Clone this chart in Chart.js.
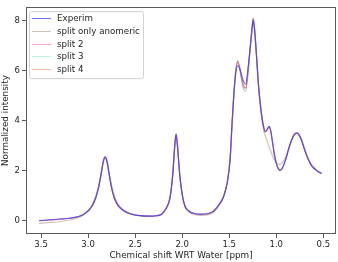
<!DOCTYPE html>
<html>
<head>
<meta charset="utf-8">
<script src="https://cdn.jsdelivr.net/npm/chart.js@4.4.0/dist/chart.umd.min.js"></script>
<style>
  html, body { margin: 0; padding: 0; background: #fff; }
  canvas { display: block; }
</style>
</head>
<body>
<canvas id="nmrChart" width="338" height="262"></canvas>
<script>
// chemical shift (ppm)
const shiftPpm = [
  3.52, 3.40, 3.30, 3.20, 3.10, 3.05, 3.00, 2.96, 2.92, 2.89,
  2.86, 2.84, 2.82, 2.80, 2.78, 2.75, 2.72, 2.68, 2.62, 2.55,
  2.45, 2.35, 2.28, 2.22, 2.17, 2.13, 2.10, 2.08, 2.065, 2.05,
  2.03, 2.00, 1.97, 1.93, 1.88, 1.80, 1.72, 1.66, 1.60, 1.56,
  1.52, 1.49, 1.47, 1.45, 1.43, 1.41, 1.39, 1.37, 1.35, 1.325,
  1.30, 1.28, 1.26, 1.245, 1.23, 1.21, 1.19, 1.17, 1.15, 1.13,
  1.115, 1.09, 1.077, 1.06, 1.04, 1.02, 1.00, 0.98, 0.96, 0.94,
  0.90, 0.87, 0.84, 0.81, 0.78, 0.76, 0.73, 0.70, 0.66, 0.62,
  0.58, 0.55, 0.52
];

const experim = [
  0.02, 0.05, 0.08, 0.11, 0.18, 0.26, 0.40, 0.58, 0.90, 1.30,
  1.90, 2.35, 2.56, 2.40, 1.95, 1.30, 0.90, 0.60, 0.40, 0.28,
  0.21, 0.19, 0.21, 0.27, 0.50, 0.90, 1.85, 2.95, 3.47, 3.00,
  2.00, 1.05, 0.58, 0.40, 0.31, 0.27, 0.30, 0.42, 0.70, 0.98,
  1.55, 2.50, 3.90, 5.10, 5.90, 6.20, 6.10, 5.85, 5.60, 5.45,
  6.10, 6.80, 7.55, 8.02, 7.60, 6.60, 5.50, 4.70, 4.10, 3.70,
  3.57, 3.70, 3.78, 3.62, 3.15, 2.65, 2.30, 2.10, 2.02, 2.08,
  2.45, 2.85, 3.20, 3.45, 3.51, 3.45, 3.20, 2.85, 2.45, 2.18,
  2.04, 1.96, 1.90
];

const splitAnomeric = [
  -0.10, -0.06, -0.02, 0.04, 0.14, 0.24, 0.40, 0.62, 0.98, 1.38,
  1.92, 2.30, 2.50, 2.38, 2.00, 1.42, 1.00, 0.68, 0.44, 0.30,
  0.21, 0.18, 0.20, 0.26, 0.52, 0.95, 1.88, 2.92, 3.45, 3.02,
  2.05, 1.10, 0.60, 0.37, 0.27, 0.22, 0.25, 0.37, 0.66, 0.96,
  1.55, 2.45, 3.80, 5.05, 6.00, 6.40, 6.10, 5.65, 5.28, 5.17,
  5.85, 6.75, 7.60, 8.10, 7.65, 6.55, 5.40, 4.55, 3.95, 3.55,
  3.38, 3.12, 2.98, 2.80, 2.60, 2.45, 2.34, 2.27, 2.26, 2.31,
  2.55, 2.88, 3.20, 3.43, 3.50, 3.46, 3.25, 2.92, 2.52, 2.23,
  2.07, 1.98, 1.92
];

const split2 = [
  0.00, 0.04, 0.07, 0.11, 0.18, 0.26, 0.41, 0.60, 0.93, 1.33,
  1.92, 2.36, 2.55, 2.40, 1.96, 1.33, 0.92, 0.62, 0.41, 0.29,
  0.21, 0.19, 0.21, 0.27, 0.51, 0.92, 1.87, 2.96, 3.47, 3.01,
  2.02, 1.06, 0.59, 0.39, 0.30, 0.26, 0.29, 0.41, 0.69, 0.98,
  1.56, 2.50, 3.85, 5.10, 6.00, 6.35, 6.15, 5.75, 5.40, 5.30,
  6.00, 6.80, 7.60, 8.08, 7.65, 6.62, 5.48, 4.68, 4.08, 3.68,
  3.55, 3.68, 3.76, 3.62, 3.16, 2.68, 2.32, 2.11, 2.03, 2.09,
  2.45, 2.85, 3.20, 3.45, 3.52, 3.46, 3.21, 2.86, 2.46, 2.18,
  2.04, 1.96, 1.90
];

const split3 = [
  0.00, 0.04, 0.07, 0.11, 0.18, 0.26, 0.41, 0.60, 0.93, 1.33,
  1.92, 2.36, 2.56, 2.41, 1.96, 1.33, 0.92, 0.62, 0.41, 0.29,
  0.21, 0.19, 0.21, 0.27, 0.51, 0.92, 1.87, 2.96, 3.47, 3.01,
  2.02, 1.06, 0.59, 0.39, 0.30, 0.26, 0.29, 0.41, 0.69, 0.98,
  1.56, 2.50, 3.87, 5.12, 6.02, 6.38, 6.15, 5.72, 5.38, 5.28,
  6.00, 6.80, 7.60, 8.08, 7.65, 6.62, 5.48, 4.68, 4.08, 3.68,
  3.56, 3.69, 3.77, 3.62, 3.16, 2.67, 2.31, 2.11, 2.03, 2.09,
  2.45, 2.85, 3.20, 3.45, 3.52, 3.46, 3.21, 2.86, 2.46, 2.18,
  2.04, 1.96, 1.90
];

const split4 = [
  0.01, 0.04, 0.07, 0.11, 0.18, 0.26, 0.41, 0.60, 0.92, 1.32,
  1.91, 2.36, 2.56, 2.40, 1.96, 1.32, 0.91, 0.61, 0.41, 0.29,
  0.21, 0.19, 0.21, 0.27, 0.51, 0.91, 1.86, 2.96, 3.47, 3.01,
  2.01, 1.06, 0.59, 0.40, 0.30, 0.26, 0.29, 0.41, 0.69, 0.98,
  1.56, 2.50, 3.86, 5.10, 6.00, 6.33, 6.15, 5.76, 5.42, 5.32,
  6.02, 6.80, 7.60, 8.07, 7.64, 6.62, 5.49, 4.69, 4.09, 3.69,
  3.56, 3.69, 3.77, 3.62, 3.15, 2.67, 2.31, 2.11, 2.03, 2.09,
  2.45, 2.85, 3.20, 3.45, 3.52, 3.46, 3.21, 2.86, 2.46, 2.18,
  2.04, 1.96, 1.90
];

const seriesLabels = ['Experim', 'split only anomeric', 'split 2', 'split 3', 'split 4'];
const xTicks = [3.5, 3.0, 2.5, 2.0, 1.5, 1.0, 0.5];
const yTicks = [0, 2, 4, 6, 8];

const COLORS = {
  experim: 'rgba(50, 50, 255, 0.7)',
  anomeric: 'rgba(150, 120, 95, 0.45)',
  split2: 'rgba(255, 80, 160, 0.55)',
  split3: 'rgba(90, 230, 170, 0.4)',
  split4: 'rgba(255, 110, 70, 0.5)',
  spine: '#5a5a5a',
  text: '#1e1e1e',
};
const FONT = 'DejaVu Sans';

function toPoints(values) {
  return values.map((v, i) => ({ x: shiftPpm[i], y: v }));
}

function lineSet(label, values, color) {
  return {
    label: label,
    data: toPoints(values),
    borderColor: color,
    borderWidth: 1.2,
    pointRadius: 0,
    fill: false,
    cubicInterpolationMode: 'monotone',
  };
}

// legend drawn inside the plot, top-left
const insideLegend = {
  id: 'insideLegend',
  afterDatasetsDraw(chart) {
    const { ctx, chartArea } = chart;
    const x0 = chartArea.left + 3;
    const y0 = chartArea.top + 4;
    ctx.save();
    ctx.beginPath();
    ctx.roundRect(x0 + 0.5, y0 + 0.5, 114, 67, 2);
    ctx.fillStyle = 'rgba(255,255,255,0.8)';
    ctx.fill();
    ctx.strokeStyle = '#d0d0d0';
    ctx.lineWidth = 1;
    ctx.stroke();
    ctx.font = '8.7px "' + FONT + '"';
    ctx.textBaseline = 'middle';
    chart.data.datasets.forEach((ds, i) => {
      const y = Math.round(y0 + 7 + i * 12.75) + 0.5;
      ctx.strokeStyle = ds.borderColor;
      ctx.beginPath();
      ctx.moveTo(x0 + 3, y);
      ctx.lineTo(x0 + 22, y);
      ctx.stroke();
      ctx.fillStyle = COLORS.text;
      ctx.fillText(ds.label, x0 + 28, y);
    });
    ctx.restore();
  },
};

// full box frame like matplotlib spines
const frame = {
  id: 'frame',
  afterDraw(chart) {
    const { ctx, chartArea: a } = chart;
    ctx.save();
    ctx.strokeStyle = COLORS.spine;
    ctx.lineWidth = 1;
    ctx.strokeRect(Math.round(a.left) + 0.5, Math.round(a.top) + 0.5,
      Math.round(a.right - a.left) - 1, Math.round(a.bottom - a.top) - 1);
    ctx.restore();
  },
};

const tickStyle = { color: COLORS.text, font: { family: FONT, size: 8.5 } };

new Chart(document.getElementById('nmrChart'), {
  type: 'line',
  data: {
    datasets: [
      lineSet(seriesLabels[0], experim, COLORS.experim),
      lineSet(seriesLabels[1], splitAnomeric, COLORS.anomeric),
      lineSet(seriesLabels[2], split2, COLORS.split2),
      lineSet(seriesLabels[3], split3, COLORS.split3),
      lineSet(seriesLabels[4], split4, COLORS.split4),
    ],
  },
  options: {
    responsive: false,
    animation: false,
    layout: { padding: { top: 2, right: 2, left: 0, bottom: 0 } },
    plugins: { legend: { display: false }, tooltip: { enabled: false } },
    scales: {
      x: {
        type: 'linear',
        reverse: true,
        min: 0.365,
        max: 3.66,
        afterBuildTicks: (scale) => { scale.ticks = xTicks.map((v) => ({ value: v })); },
        afterFit: (scale) => { scale.height = 28; },
        grid: { drawOnChartArea: false, drawTicks: true, tickLength: 4, color: COLORS.spine },
        border: { display: false },
        ticks: Object.assign({ padding: 2, maxRotation: 0, callback: (v) => v.toFixed(1) }, tickStyle),
        title: {
          display: true,
          text: 'Chemical shift WRT Water [ppm]',
          color: COLORS.text,
          font: { family: FONT, size: 8.8 },
          padding: { top: 0, bottom: 1.5 },
        },
      },
      y: {
        min: -0.52,
        max: 8.54,
        afterBuildTicks: (scale) => { scale.ticks = yTicks.map((v) => ({ value: v })); },
        afterFit: (scale) => { scale.width = 26; },
        grid: { drawOnChartArea: false, drawTicks: true, tickLength: 4, color: COLORS.spine },
        border: { display: false },
        ticks: Object.assign({ padding: 2 }, tickStyle),
        title: {
          display: true,
          text: 'Normalized intensity',
          color: COLORS.text,
          font: { family: FONT, size: 8.8 },
          padding: { top: 0.5, bottom: 0 },
        },
      },
    },
  },
  plugins: [insideLegend, frame],
});
</script>
</body>
</html>
